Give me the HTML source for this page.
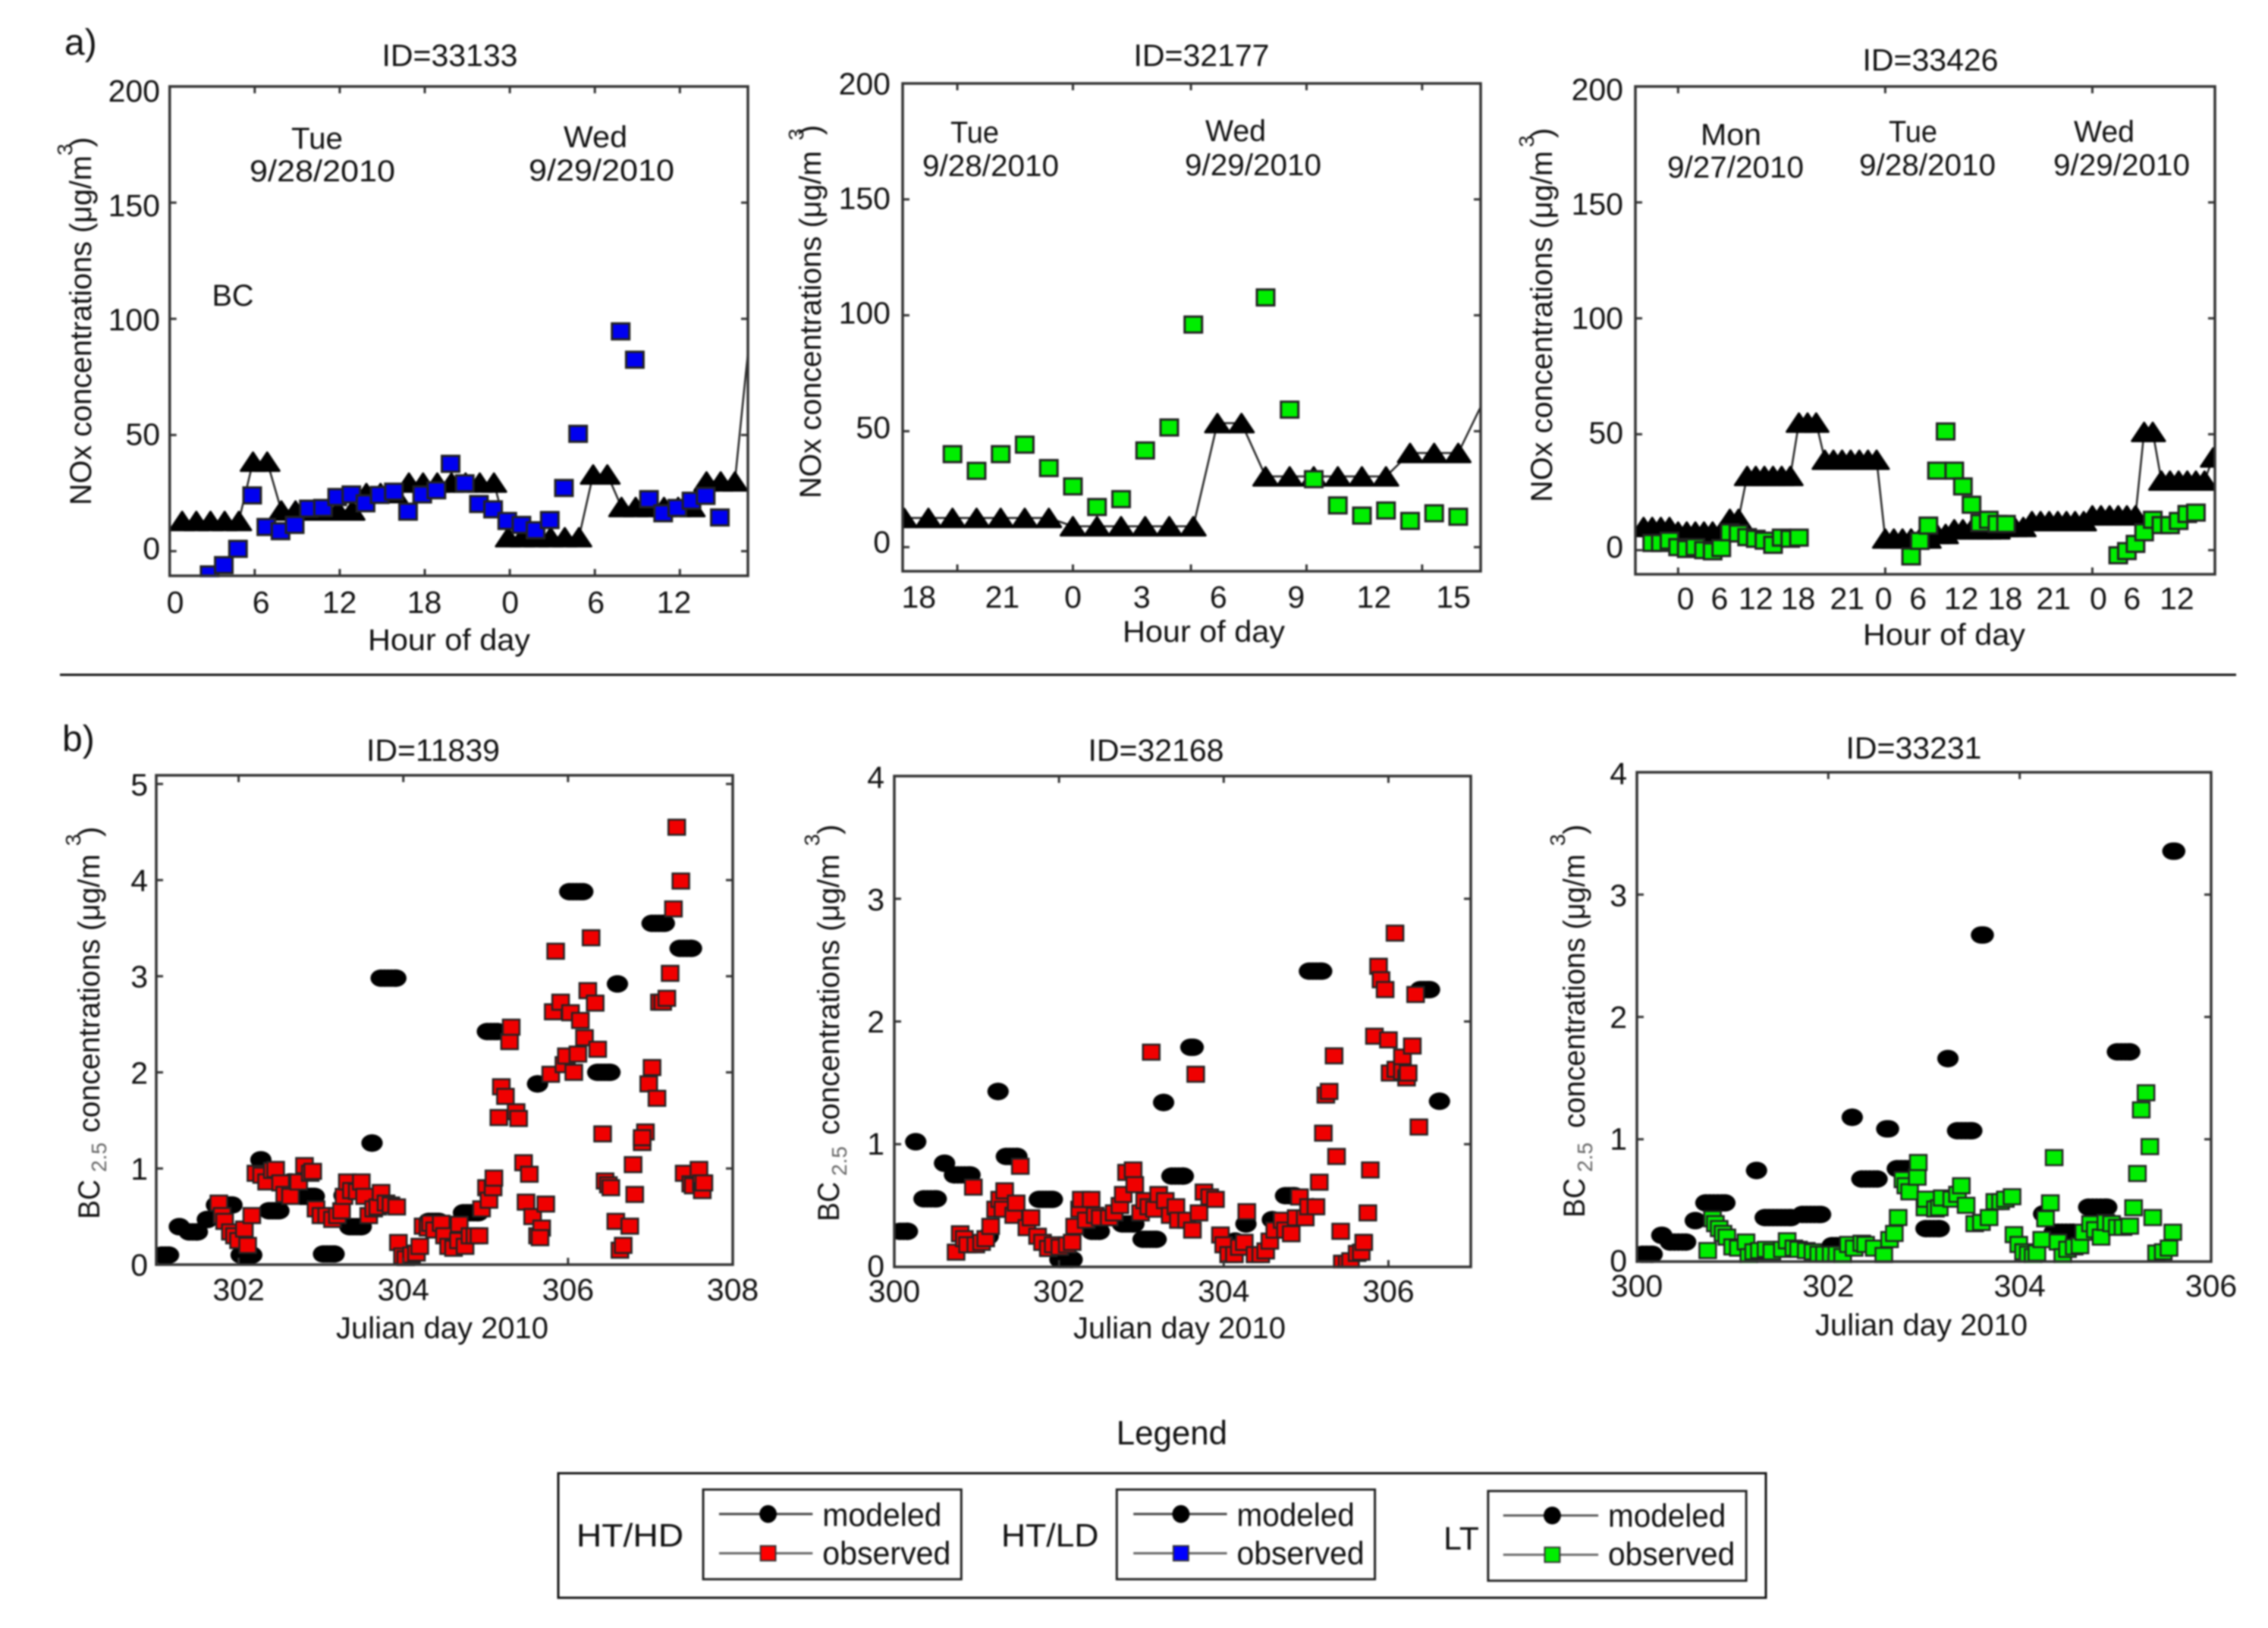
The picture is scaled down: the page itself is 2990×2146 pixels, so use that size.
<!DOCTYPE html>
<html lang="en">
<head>
<meta charset="utf-8">
<title>Modeled and observed concentrations</title>
<style>
html,body{margin:0;padding:0;background:#fff;width:2990px;height:2146px;overflow:hidden}
svg{display:block;filter:blur(1px)}
text{font-family:"Liberation Sans",sans-serif;fill:#111}
</style>
</head>
<body>
<svg id="fig" xmlns="http://www.w3.org/2000/svg" width="2990" height="2146" viewBox="0 0 2990 2146">
<rect x="0" y="0" width="2990" height="2146" fill="#fff"/>
<g id="plots"></g>

<text x="85" y="72" font-size="48">a)</text>
<text x="82" y="990" font-size="48">b)</text>
<line x1="79" y1="889.5" x2="2948" y2="889.5" stroke="#111" stroke-width="3"/>

<text x="593" y="87" font-size="41" text-anchor="middle">ID=33133</text>
<text x="1584" y="87" font-size="41" text-anchor="middle">ID=32177</text>
<text x="2545" y="93" font-size="41" text-anchor="middle">ID=33426</text>
<text x="571" y="1003" font-size="41" text-anchor="middle">ID=11839</text>
<text x="1524" y="1003" font-size="41" text-anchor="middle">ID=32168</text>
<text x="2523" y="1000" font-size="41" text-anchor="middle">ID=33231</text>

<g font-size="40" text-anchor="middle">
<text x="418" y="196" textLength="68" lengthAdjust="spacingAndGlyphs">Tue</text>
<text x="425" y="239" textLength="192" lengthAdjust="spacingAndGlyphs">9/28/2010</text>
<text x="785" y="194" textLength="84" lengthAdjust="spacingAndGlyphs">Wed</text>
<text x="793" y="238" textLength="192" lengthAdjust="spacingAndGlyphs">9/29/2010</text>
<text x="307" y="403" textLength="55" lengthAdjust="spacingAndGlyphs">BC</text>

<text x="1285" y="188" textLength="64" lengthAdjust="spacingAndGlyphs">Tue</text>
<text x="1306" y="232" textLength="180" lengthAdjust="spacingAndGlyphs">9/28/2010</text>
<text x="1629" y="186" textLength="80" lengthAdjust="spacingAndGlyphs">Wed</text>
<text x="1652" y="231" textLength="180" lengthAdjust="spacingAndGlyphs">9/29/2010</text>

<text x="2282" y="191" textLength="80" lengthAdjust="spacingAndGlyphs">Mon</text>
<text x="2288" y="234" textLength="180" lengthAdjust="spacingAndGlyphs">9/27/2010</text>
<text x="2522" y="187" textLength="64" lengthAdjust="spacingAndGlyphs">Tue</text>
<text x="2541" y="231" textLength="180" lengthAdjust="spacingAndGlyphs">9/28/2010</text>
<text x="2774" y="187" textLength="80" lengthAdjust="spacingAndGlyphs">Wed</text>
<text x="2797" y="231" textLength="180" lengthAdjust="spacingAndGlyphs">9/29/2010</text>
</g>

<g font-size="40" text-anchor="middle">
<text x="592" y="857" textLength="214" lengthAdjust="spacingAndGlyphs">Hour of day</text>
<text x="1587" y="846" textLength="214" lengthAdjust="spacingAndGlyphs">Hour of day</text>
<text x="2563" y="850" textLength="214" lengthAdjust="spacingAndGlyphs">Hour of day</text>
<text x="583" y="1764" textLength="280" lengthAdjust="spacingAndGlyphs">Julian day 2010</text>
<text x="1555" y="1764" textLength="280" lengthAdjust="spacingAndGlyphs">Julian day 2010</text>
<text x="2533" y="1760" textLength="280" lengthAdjust="spacingAndGlyphs">Julian day 2010</text>
</g>

<g font-size="40">
<text transform="translate(120,666) rotate(-90)" textLength="461" lengthAdjust="spacingAndGlyphs">NOx concentrations (μg/m</text>
<text transform="translate(95,205) rotate(-90)" font-size="28">3</text>
<text transform="translate(120,194) rotate(-90)">)</text>

<text transform="translate(1082,657) rotate(-90)" textLength="458" lengthAdjust="spacingAndGlyphs">NOx concentrations (μg/m</text>
<text transform="translate(1059,185) rotate(-90)" font-size="28">3</text>
<text transform="translate(1082,178) rotate(-90)">)</text>

<text transform="translate(2046,662) rotate(-90)" textLength="463" lengthAdjust="spacingAndGlyphs">NOx concentrations (μg/m</text>
<text transform="translate(2022,194) rotate(-90)" font-size="28">3</text>
<text transform="translate(2046,182) rotate(-90)">)</text>

<text transform="translate(131,1607) rotate(-90)" textLength="52" lengthAdjust="spacingAndGlyphs">BC</text>
<text transform="translate(140,1545) rotate(-90)" font-size="28" style="fill:#666">2.5</text>
<text transform="translate(131,1493) rotate(-90)" textLength="367" lengthAdjust="spacingAndGlyphs">concentrations (μg/m</text>
<text transform="translate(106,1115) rotate(-90)" font-size="28">3</text>
<text transform="translate(131,1103) rotate(-90)">)</text>

<text transform="translate(1106,1610) rotate(-90)" textLength="52" lengthAdjust="spacingAndGlyphs">BC</text>
<text transform="translate(1116,1550) rotate(-90)" font-size="28" style="fill:#666">2.5</text>
<text transform="translate(1106,1496) rotate(-90)" textLength="370" lengthAdjust="spacingAndGlyphs">concentrations (μg/m</text>
<text transform="translate(1080,1115) rotate(-90)" font-size="28">3</text>
<text transform="translate(1106,1100) rotate(-90)">)</text>

<text transform="translate(2089,1605) rotate(-90)" textLength="52" lengthAdjust="spacingAndGlyphs">BC</text>
<text transform="translate(2099,1545) rotate(-90)" font-size="28" style="fill:#666">2.5</text>
<text transform="translate(2089,1487) rotate(-90)" textLength="361" lengthAdjust="spacingAndGlyphs">concentrations (μg/m</text>
<text transform="translate(2063,1115) rotate(-90)" font-size="28">3</text>
<text transform="translate(2089,1100) rotate(-90)">)</text>
</g>

<g transform="translate(736,1942) scale(0.995,0.977) translate(-738,-1946)">
<text x="1551" y="1907" font-size="46" text-anchor="middle" textLength="147" lengthAdjust="spacingAndGlyphs">Legend</text>
<rect x="738" y="1946" width="1600" height="168" fill="none" stroke="#111" stroke-width="3"/>

<text x="762" y="2045" font-size="44" textLength="142" lengthAdjust="spacingAndGlyphs">HT/HD</text>
<rect x="930" y="1968" width="342" height="121" fill="none" stroke="#222" stroke-width="3"/>
<line x1="951" y1="2001" x2="1075" y2="2001" stroke="#444" stroke-width="3"/>
<ellipse cx="1016" cy="2001" rx="11.5" ry="12" fill="#000"/>
<line x1="951" y1="2054" x2="1075" y2="2054" stroke="#666" stroke-width="3"/>
<rect x="1006" y="2044" width="20" height="20" fill="#f00" stroke="#333" stroke-width="2"/>
<text x="1088" y="2017" font-size="44" textLength="158" lengthAdjust="spacingAndGlyphs">modeled</text>
<text x="1088" y="2069" font-size="44" textLength="170" lengthAdjust="spacingAndGlyphs">observed</text>

<text x="1325" y="2045" font-size="44" textLength="129" lengthAdjust="spacingAndGlyphs">HT/LD</text>
<rect x="1478" y="1968" width="342" height="121" fill="none" stroke="#222" stroke-width="3"/>
<line x1="1500" y1="2001" x2="1624" y2="2001" stroke="#444" stroke-width="3"/>
<ellipse cx="1563" cy="2001" rx="11.5" ry="12" fill="#000"/>
<line x1="1500" y1="2054" x2="1624" y2="2054" stroke="#666" stroke-width="3"/>
<rect x="1553" y="2044" width="20" height="20" fill="#00f" stroke="#333" stroke-width="2"/>
<text x="1637" y="2017" font-size="44" textLength="156" lengthAdjust="spacingAndGlyphs">modeled</text>
<text x="1637" y="2069" font-size="44" textLength="169" lengthAdjust="spacingAndGlyphs">observed</text>

<text x="1911" y="2049" font-size="44" textLength="47" lengthAdjust="spacingAndGlyphs">LT</text>
<rect x="1970" y="1970" width="342" height="121" fill="none" stroke="#222" stroke-width="3"/>
<line x1="1990" y1="2003" x2="2116" y2="2003" stroke="#555" stroke-width="3"/>
<ellipse cx="2055" cy="2003" rx="11.5" ry="12" fill="#000"/>
<line x1="1990" y1="2056" x2="2116" y2="2056" stroke="#666" stroke-width="3"/>
<rect x="2045" y="2046" width="20" height="20" fill="#0e0" stroke="#333" stroke-width="2"/>
<text x="2129" y="2018" font-size="44" textLength="156" lengthAdjust="spacingAndGlyphs">modeled</text>
<text x="2129" y="2070" font-size="44" textLength="168" lengthAdjust="spacingAndGlyphs">observed</text>
</g>
</svg>

<script>
// ---------- Panel a) ID=33133 ----------
const a1ModeledStartHour = 0.88;
const a1Modeled = [13,13,13,13,13,38.5,38.5,17.5,17.5,17.5,17.5,17.5,17.5,25,25,25,29.5,29.5,29.5,29.5,29.5,29.5,29.5,6,6,6,6,6,6,33,33,19,19,19,19,19,19,30,30,30,90];
const a1ObservedStartHour = 2.82;
const a1Observed = [-10,-6,1,24,10.4,8.6,11.3,18.3,18.6,23.3,24.4,20.6,24.2,25.6,17,24.4,26.2,37.6,29.2,20.3,18,13,11.3,9,13.4,27.2,50.5,null,null,94.6,82.4,22.4,16.3,18.6,21.7,23.8,14.5];
const a1XTicks = [6,12,18,24,30,36];
const a1XLabels = ['0','6','12','18','0','6','12'];
const a1XLabelHours = [0.39,6.45,11.98,17.97,24.03,30.08,35.58];

// ---------- Panel a) ID=32177 ----------
const a2ModeledStartHour = 17;
const a2Modeled = [12.6,12.6,12.6,12.6,12.6,12.6,12.6,9,9,9,9,9,9,53.5,53.5,30.5,30.5,30.5,30.5,30.5,30.5,40.6,40.6,40.6,62];
const a2ObservedStartHour = 19;
const a2Observed = [40.1,32.9,40.1,44.2,34.1,26.2,17.3,20.7,41.7,51.6,96,null,null,107.7,59.3,29.3,18,13.6,15.8,11.3,14.6,13.1];
const a2XTicks = [19.2,24,28.9,33.7,38.5];
const a2XLabels = ['18','21','0','3','6','9','12','15'];
const a2XLabelHours = [17.6,21.07,24,26.86,30.04,33.27,36.5,39.8];

// ---------- Panel a) ID=33426 ----------
const a3ModeledStartHour = -4;
const a3Modeled = [10,10,10,10,8,8,8,8,8,8,13.5,13.5,32,32,32,32,32,32,55,55,55,39,39,39,39,39,39,39,5,5,5,5,5,5,7,7,9,9,9,9,9,9,10,10,10,12.5,12.5,12.5,12.5,12.5,12.5,12.5,15,15,15,15,15,15,51,51,30,30,30,30,30,30,40,64];
const a3ObservedStartHour = -3;
const a3Observed = [3.1,3.1,4.1,1.3,0.5,1.3,0,-0.5,0.9,7.7,7.2,5.6,4.9,4.1,2.3,5.4,4.9,5.4,null,null,null,null,null,null,null,null,null,null,null,null,-2.7,4,10.6,34.3,51.2,34.3,27.5,19.6,11.7,13.1,11.3,11.3,null,null,null,null,null,null,null,null,null,null,null,null,-2.2,-0.4,2.7,7.7,13.1,10.8,10.8,12.6,15.6,16.2];
const a3XTicks = [0,24,48];
const a3XLabels = ['0','6','12','18','21','0','6','12','18','21','0','6','12'];
const a3XLabelHours = [0.86,4.8,9,13.9,19.6,23.8,27.8,32.8,37.9,43.5,48.7,52.6,57.8];

const noxYTicks = [0,50,100,150,200];

// ---------- Panel b) ID=11839 ----------
const b1SegStart = [301.07,301.28,301.40,301.62,301.73,302.03,302.27,302.37,302.63,302.76,303.03,303.28,303.35,303.62,303.73,304.31,304.73,305.02,305.63,306.02,306.36,306.60,307.02,307.36];
const b1SegEnd   = [301.15,301.28,301.50,301.62,301.92,302.16,302.27,302.49,302.63,302.92,303.16,303.28,303.49,303.62,303.91,304.43,304.91,305.14,305.63,306.18,306.51,306.60,307.17,307.50];
const b1SegVal   = [0.1,0.395,0.34,0.47,0.62,0.1,1.09,0.56,0.86,0.71,0.11,0.72,0.395,1.265,2.98,0.45,0.54,2.425,1.88,3.88,2,2.92,3.55,3.29];
const b1ObsDay = [301.76,301.80,301.83,301.90,301.95,302.00,302.07,302.11,302.16,302.21,302.28,302.34,302.41,302.45,302.51,302.56,302.63,302.73,302.80,302.87,302.90,302.94,303.00,303.07,303.14,303.20,303.25,303.28,303.32,303.37,303.44,303.49,303.53,303.58,303.64,303.69,303.73,303.79,303.85,303.92,303.94,303.99,304.03,304.10,304.16,304.20,304.24,304.30,304.33,304.38,304.46,304.50,304.55,304.61,304.68,304.67,304.75,304.81,304.87,304.92,304.95,305.01,305.04,305.09,305.10,305.16,305.19,305.24,305.29,305.31,305.37,305.40,305.46,305.49,305.53,305.57,305.63,305.68,305.66,305.73,305.79,305.82,305.85,305.91,305.95,305.98,306.03,306.07,306.12,306.15,306.20,306.24,306.28,306.33,306.36,306.42,306.45,306.49,306.52,306.58,306.63,306.67,306.75,306.79,306.81,306.90,306.94,306.90,306.98,307.02,307.08,307.11,307.15,307.20,307.24,307.28,307.32,307.37,307.41,307.49,307.52,307.59,307.62,307.63,307.65];
const b1ObsVal = [0.64,0.51,0.45,0.34,0.30,0.25,0.37,0.20,0.51,0.95,0.93,0.86,0.98,0.99,0.85,0.73,0.71,0.86,1.03,0.95,0.97,0.58,0.51,0.51,0.47,0.51,0.56,0.71,0.86,0.77,0.76,0.86,0.71,0.51,0.58,0.60,0.75,0.64,0.62,0.60,0.23,0.09,0.06,0.10,0.12,0.19,0.40,0.38,0.43,0.36,0.43,0.30,0.19,0.17,0.42,0.25,0.19,0.30,0.30,0.30,0.58,0.80,0.67,0.80,0.90,1.53,1.85,1.75,2.32,2.47,1.59,1.52,1.06,0.65,0.94,0.50,0.30,0.38,0.28,0.63,1.98,2.63,3.26,2.73,2.08,2.17,2.62,2.0,2.19,2.54,2.36,2.85,3.40,2.72,2.24,1.36,0.87,0.83,0.80,0.45,0.15,0.20,0.40,1.04,0.73,1.27,1.38,1.32,1.88,2.05,1.73,2.73,2.73,2.77,3.03,3.70,4.55,3.99,0.95,0.84,0.82,0.99,0.85,0.77,0.85];
const b1XTicks = [302,304,306,308];
const b1YTicks = [0,1,2,3,4,5];

// ---------- Panel b) ID=32168 ----------
const b2SegStart = [300.07,300.26,300.36,300.61,300.73,301.14,301.26,301.36,301.76,302.01,302.40,302.77,303.02,303.27,303.37,303.60,304.14,304.27,304.59,304.75,305.08,305.04,306.39,306.62];
const b2SegEnd   = [300.16,300.26,300.51,300.61,300.92,301.14,301.26,301.49,301.92,302.16,302.49,302.91,303.18,303.27,303.51,303.63,304.14,304.27,304.59,304.86,305.08,305.19,306.50,306.62];
const b2SegVal   = [0.29,1.02,0.555,0.845,0.75,0.25,1.43,0.9,0.55,0.06,0.29,0.35,0.225,1.34,0.74,1.79,0.21,0.35,0.385,0.58,0.49,2.41,2.26,1.35];
const b2ObsDay = [300.75,300.80,300.85,300.89,300.99,300.96,301.06,301.11,301.17,301.23,301.28,301.34,301.32,301.45,301.48,301.53,301.61,301.66,301.74,301.80,301.87,301.93,302.01,302.10,302.16,302.19,302.25,302.27,302.33,302.39,302.44,302.50,302.61,302.67,302.74,302.78,302.82,302.90,302.92,302.99,303.04,303.09,303.16,303.21,303.29,303.35,303.42,303.45,303.55,303.62,303.70,303.76,303.83,303.90,303.12,303.66,303.96,304.00,304.06,304.13,304.19,304.25,304.28,304.38,304.45,304.51,304.56,304.62,304.71,304.75,304.82,304.88,304.92,304.99,305.03,305.12,305.16,305.21,305.24,305.28,305.34,305.37,305.42,305.44,305.50,305.54,305.62,305.67,305.70,305.75,305.78,305.83,305.88,305.91,305.96,306.00,306.02,306.09,306.08,306.17,306.17,306.22,306.24,306.29,306.33,306.37];
const b2ObsVal = [0.12,0.27,0.23,0.18,0.18,0.65,0.20,0.23,0.33,0.47,0.55,0.62,0.47,0.42,0.52,0.82,0.32,0.40,0.25,0.20,0.15,0.18,0.16,0.18,0.20,0.33,0.47,0.55,0.38,0.55,0.42,0.40,0.40,0.44,0.50,0.59,0.77,0.79,0.67,0.44,0.54,0.49,0.47,0.59,0.54,0.42,0.49,0.38,0.38,0.30,0.44,0.61,0.57,0.55,1.75,1.57,0.26,0.18,0.10,0.10,0.16,0.20,0.45,0.10,0.10,0.13,0.21,0.30,0.38,0.30,0.27,0.40,0.57,0.40,0.49,0.49,0.69,1.09,1.40,1.43,1.72,0.90,0.29,0.03,0.03,0.05,0.11,0.12,0.20,0.44,0.79,1.88,2.45,2.34,2.26,1.85,1.58,1.61,2.72,1.71,1.59,1.54,1.58,1.80,2.22,1.14];
const b2XTicks = [300,302,304,306];
const b2YTicks = [0,1,2,3,4];

// ---------- Panel b) ID=33231 ----------
const b3SegStart = [300.06,300.26,300.35,300.61,300.72,301.25,301.34,301.73,302.04,302.25,302.35,302.61,302.72,303.02,303.25,303.35,303.60,304.25,304.36,304.72,305.02,305.60];
const b3SegEnd   = [300.16,300.26,300.51,300.61,300.92,301.25,301.61,301.92,302.14,302.25,302.51,302.63,302.92,303.16,303.25,303.50,303.62,304.25,304.56,304.91,305.15,305.62];
const b3SegVal   = [0.06,0.215,0.16,0.335,0.48,0.745,0.36,0.385,0.13,1.18,0.675,1.085,0.76,0.27,1.66,1.07,2.67,0.39,0.24,0.445,1.715,3.355];
const b3ObsDay = [300.74,300.79,300.82,300.86,300.90,300.94,301.00,301.06,301.14,301.17,301.22,301.28,301.35,301.41,301.52,301.57,301.64,301.69,301.77,301.84,301.90,301.96,302.03,302.09,302.15,302.21,302.27,302.35,302.39,302.48,302.58,302.64,302.69,302.73,302.78,302.81,302.85,302.93,302.94,303.01,303.02,303.12,303.16,303.19,303.29,303.35,303.39,303.44,303.53,303.60,303.68,303.74,303.80,303.85,303.92,303.94,303.99,304.04,304.09,304.14,304.18,304.23,304.27,304.32,304.36,304.40,304.45,304.50,304.57,304.63,304.67,304.74,304.79,304.85,304.90,304.96,305.02,305.08,305.15,305.19,305.23,305.27,305.32,305.36,305.39,305.43,305.50,305.56,305.60];
const b3ObsVal = [0.09,0.35,0.31,0.27,0.23,0.20,0.12,0.11,0.16,0.04,0.08,0.09,0.10,0.08,0.10,0.17,0.11,0.10,0.09,0.08,0.06,0.06,0.06,0.06,0.04,0.14,0.11,0.15,0.14,0.11,0.05,0.18,0.23,0.36,0.67,0.62,0.57,0.69,0.81,0.44,0.51,0.43,0.44,0.52,0.51,0.55,0.62,0.46,0.31,0.32,0.36,0.49,0.49,0.51,0.53,0.22,0.14,0.08,0.06,0.04,0.07,0.18,0.35,0.48,0.85,0.16,0.04,0.10,0.12,0.13,0.24,0.31,0.26,0.20,0.32,0.31,0.28,0.28,0.29,0.44,0.72,1.24,1.38,0.94,0.36,0.07,0.08,0.11,0.24];
const b3XTicks = [300,302,304,306];
const b3YTicks = [0,1,2,3,4];

const SVGNS = 'http://www.w3.org/2000/svg';
const plots = document.getElementById('plots');
let clipCounter = 0;

function make(tag, parent, name, attrs) {
  const el = document.createElementNS(SVGNS, tag);
  
  
  for (const k in attrs) el.setAttribute(k, attrs[k]);
  parent.appendChild(el);
  return el;
}

function drawFrame(p) {
  const xs = v => p.l + (v - p.xMin) / (p.xMax - p.xMin) * (p.r - p.l);
  const ys = v => p.b - (v - p.yMin) / (p.yMax - p.yMin) * (p.b - p.t);
  const g = make('g', plots, 'panel-' + p.id, {});
  const id = 'clip' + (++clipCounter);
  const defs = document.createElementNS(SVGNS, 'defs');
  const cp = document.createElementNS(SVGNS, 'clipPath');
  cp.setAttribute('id', id);
  const cr = document.createElementNS(SVGNS, 'rect');
  cr.setAttribute('x', p.l); cr.setAttribute('y', p.t);
  cr.setAttribute('width', p.r - p.l); cr.setAttribute('height', p.b - p.t + 2);
  cp.appendChild(cr); defs.appendChild(cp); g.appendChild(defs);
  const marks = make('g', g, 'series-' + p.id, {'clip-path': 'url(#' + id + ')'});
  return {xs, ys, g, marks};
}

function finishFrame(p, ctx) {
  const {xs, ys, g} = ctx;
  const tick = 9;
  p.xTicks.forEach(v => {
    const x = xs(v);
    make('line', g, 'x-tick', {x1: x, x2: x, y1: p.b, y2: p.b - tick, stroke: '#333', 'stroke-width': 3});
    make('line', g, 'x-tick', {x1: x, x2: x, y1: p.t, y2: p.t + tick, stroke: '#333', 'stroke-width': 3});
  });
  p.yTicks.forEach(v => {
    const y = ys(v);
    make('line', g, 'y-tick', {x1: p.l, x2: p.l + tick, y1: y, y2: y, stroke: '#333', 'stroke-width': 3});
    make('line', g, 'y-tick', {x1: p.r, x2: p.r - tick, y1: y, y2: y, stroke: '#333', 'stroke-width': 3});
    const frac = (v - p.yTicks[0]) / (p.yTicks[p.yTicks.length - 1] - p.yTicks[0]);
    const t = make('text', g, 'y-tick-label', {x: p.yLabelX, y: y + p.dyBot + (p.dyTop - p.dyBot) * frac, 'font-size': 41, 'text-anchor': 'end'});
    t.textContent = String(v);
  });
  p.xLabels.forEach((s, i) => {
    const t = make('text', g, 'x-tick-label', {x: xs(p.xLabelVals[i]), y: p.xLabelY, 'font-size': 41, 'text-anchor': 'middle'});
    t.textContent = s;
  });
  make('rect', g, 'axes-frame', {x: p.l, y: p.t, width: p.r - p.l, height: p.b - p.t, fill: 'none', stroke: '#333', 'stroke-width': 3.5});
}

function drawHourPanel(p, modeledStart, modeled, observedStart, observed, color) {
  const ctx = drawFrame(p);
  const {xs, ys, marks} = ctx;
  const pts = modeled.map((v, i) => [xs(modeledStart + i), ys(v)]);
  make('polyline', marks, 'modeled-line', {points: pts.map(q => q.join(',')).join(' '), fill: 'none', stroke: '#222', 'stroke-width': 2.5});
  pts.forEach(q => {
    if (q[0] > p.r) return;
    const x = q[0], y = q[1];
    const d = 'M' + (x - 16) + ' ' + (y + 12) + 'L' + x + ' ' + (y - 12) + 'L' + (x + 16) + ' ' + (y + 12) + 'Z';
    make('path', marks, 'modeled-marker', {d, fill: '#000', stroke: '#000', 'stroke-width': 3, 'stroke-linejoin': 'round'});
  });
  observed.forEach((v, i) => {
    if (v === null) return;
    const x = xs(observedStart + i), y = ys(v);
    make('rect', marks, 'observed-marker', {x: x - 11.5, y: y - 10.5, width: 23, height: 21, fill: color, stroke: '#222', 'stroke-width': 3});
  });
  finishFrame(p, ctx);
}

function drawDayPanel(p, segStart, segEnd, segVal, obsDay, obsVal, color) {
  const ctx = drawFrame(p);
  const {xs, ys, marks} = ctx;
  segVal.forEach((v, i) => {
    for (let d = segStart[i]; d <= segEnd[i] + 0.001; d += 1 / 24) {
      make('ellipse', marks, 'modeled-marker', {cx: xs(d), cy: ys(v), rx: 14, ry: 11.5, fill: '#000'});
    }
    make('ellipse', marks, 'modeled-marker', {cx: xs(segEnd[i]), cy: ys(v), rx: 14, ry: 11.5, fill: '#000'});
  });
  obsVal.forEach((v, i) => {
    make('rect', marks, 'observed-marker', {x: xs(obsDay[i]) - 11, y: ys(v) - 10, width: 22, height: 20, fill: color, stroke: '#222', 'stroke-width': 2.5});
  });
  finishFrame(p, ctx);
}

drawHourPanel({id:'33133', l:223.7, r:986, t:114, b:759, xMin:0, xMax:40.8, yMin:-10.6, yMax:200,
  xTicks:a1XTicks, yTicks:noxYTicks, xLabels:a1XLabels, xLabelVals:a1XLabelHours, xLabelY:808, yLabelX:211, dyTop:20, dyBot:10.5},
  a1ModeledStartHour, a1Modeled, a1ObservedStartHour, a1Observed, '#0000f0');

drawHourPanel({id:'32177', l:1190, r:1952, t:110, b:753, xMin:16.93, xMax:40.93, yMin:-10.4, yMax:200,
  xTicks:a2XTicks, yTicks:noxYTicks, xLabels:a2XLabels, xLabelVals:a2XLabelHours, xLabelY:801, yLabelX:1174, dyTop:14.5, dyBot:7.5},
  a2ModeledStartHour, a2Modeled, a2ObservedStartHour, a2Observed, '#00ee00');

drawHourPanel({id:'33426', l:2156, r:2920, t:114, b:757, xMin:-4.95, xMax:62.2, yMin:-10.4, yMax:200,
  xTicks:a3XTicks, yTicks:noxYTicks, xLabels:a3XLabels, xLabelVals:a3XLabelHours, xLabelY:803, yLabelX:2140, dyTop:18, dyBot:10},
  a3ModeledStartHour, a3Modeled, a3ObservedStartHour, a3Observed, '#00ee00');

drawDayPanel({id:'11839', l:206, r:966, t:1022, b:1667, xMin:301, xMax:308, yMin:0, yMax:5.09,
  xTicks:b1XTicks, yTicks:b1YTicks, xLabels:b1XTicks.map(String), xLabelVals:b1XTicks, xLabelY:1714, yLabelX:195, dyTop:15, dyBot:14.5},
  b1SegStart, b1SegEnd, b1SegVal, b1ObsDay, b1ObsVal, '#f00000');

drawDayPanel({id:'32168', l:1179, r:1939, t:1023, b:1670, xMin:300, xMax:307, yMin:0, yMax:4,
  xTicks:b2XTicks, yTicks:b2YTicks, xLabels:b2XTicks.map(String), xLabelVals:b2XTicks, xLabelY:1716, yLabelX:1166, dyTop:16, dyBot:13},
  b2SegStart, b2SegEnd, b2SegVal, b2ObsDay, b2ObsVal, '#f00000');

drawDayPanel({id:'33231', l:2158, r:2915, t:1018, b:1663, xMin:300, xMax:306, yMin:0, yMax:4,
  xTicks:b3XTicks, yTicks:b3YTicks, xLabels:b3XTicks.map(String), xLabelVals:b3XTicks, xLabelY:1709, yLabelX:2145, dyTop:16, dyBot:13},
  b3SegStart, b3SegEnd, b3SegVal, b3ObsDay, b3ObsVal, '#00ee00');
</script>
</body>
</html>
